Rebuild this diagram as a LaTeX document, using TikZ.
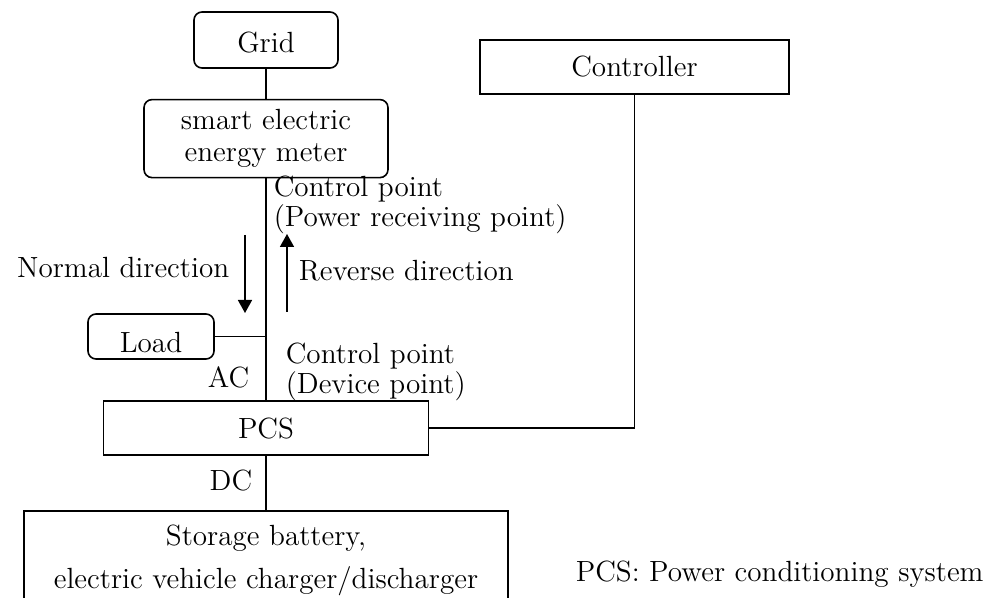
\documentclass[tikz,border=0pt]{standalone}
\usetikzlibrary{positioning,arrows.meta}

\begin{document}
\begin{tikzpicture}[
    x=0.5pt, y=-0.5pt,
    font=\fontsize{14.6}{16}\selectfont,
    line width=0.8pt,
    round box/.style={draw, rounded corners=4pt, align=center, inner sep=0pt},
    square box/.style={draw, align=center, inner sep=0pt},
    label text/.style={align=left, inner sep=0pt},
    flow arrow/.style={-{Triangle[width=7pt,length=6.5pt]}}
  ]
  \clip (0,0) rectangle (997,598);

  % Top row
  \node[round box, minimum width=72pt, minimum height=28pt, text height=13pt, text depth=0pt]
    (grid) at (266,40) {Grid};
  \node[square box, minimum width=154.5pt, minimum height=27pt] (ctrl) at (634.5,67) {Controller};

  % Meter and load
  \node[round box, minimum width=122pt, minimum height=39pt, below=15pt of grid] (meter)
    {smart electric\\energy meter};
  \node[round box, minimum width=63pt, minimum height=22.5pt, text height=16pt, text depth=0pt]
    (load) at (151,336.5) {Load};

  % Bottom row
  \node[square box, minimum width=162.5pt, minimum height=27pt, below=111pt of meter] (pcs) {PCS};
  \node[square box, minimum width=242pt, minimum height=50pt, below=27pt of pcs] (storage)
    {Storage battery,\\[5.5pt]electric vehicle charger/discharger};

  % Connections
  \draw (grid) -- (meter);
  \draw (meter) -- (pcs);
  \draw (load.east) -- (load.east -| meter.south);
  \draw (pcs) -- (storage);
  \draw (ctrl.south) |- (pcs.east);

  % Power flow arrows
  \coordinate (normal top) at (245,235);
  \coordinate (normal end) at (245,313);
  \coordinate (reverse bot) at (287,312);
  \coordinate (reverse end) at (287,234);
  \draw[flow arrow] (normal top) -- (normal end);
  \draw[flow arrow] (reverse bot) -- (reverse end);

  % Labels
  \node[label text, anchor=west, font=\fontsize{14.6}{12.5}\selectfont] (recv) at (273,205)
    {Control point\\(Power receiving point)};
  \node[label text, anchor=east] (normal) at (230,268) {Normal direction};
  \node[label text, anchor=west] (reverse) at (298,271) {Reverse direction};
  \node[label text, anchor=east] (ac) at (250,377) {AC};
  \node[label text, anchor=west, font=\fontsize{14.6}{13}\selectfont] (device) at (285,372)
    {Control point\\(Device point)};
  \node[label text, anchor=east] (dc) at (253,481) {DC};
  \node[label text, anchor=west] (note) at (575,574) {PCS: Power conditioning system};

\end{tikzpicture}
\end{document}
